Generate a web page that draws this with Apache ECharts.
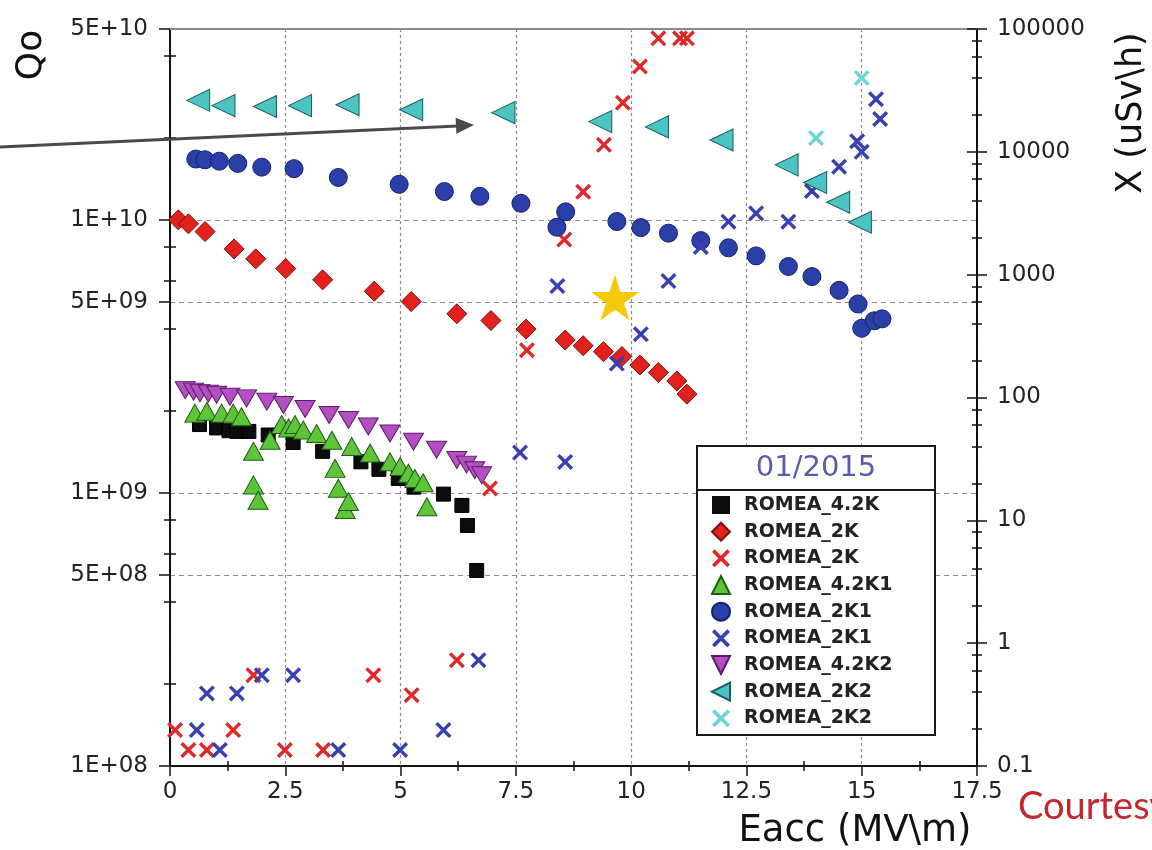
<!DOCTYPE html>
<html>
<head>
<meta charset="utf-8">
<title>ROMEA Qo / X vs Eacc</title>
<script src="https://cdn.jsdelivr.net/npm/echarts@6/dist/echarts.min.js"></script>
<style>
  html, body { margin: 0; padding: 0; background: #fff; }
  #main { width: 1152px; height: 850px; }
</style>
</head>
<body>
<div id="main"></div>
<script>
// ---- data (Eacc in MV/m, Qo, X in uSv/h) ----
const e42K = [0.64, 1.01, 1.28, 1.45, 1.71, 2.13, 2.67, 3.31, 4.14, 4.53, 4.95, 5.29, 5.93, 6.33, 6.45, 6.65]
const q42K = [1.78e9, 1.73e9, 1.69e9, 1.68e9, 1.68e9, 1.63e9, 1.53e9, 1.42e9, 1.30e9, 1.22e9, 1.13e9, 1.05e9, 9.9e8, 9.0e8, 7.6e8, 5.2e8]

const e2K = [0.18, 0.40, 0.76, 1.39, 1.86, 2.51, 3.31, 4.43, 5.23, 6.22, 6.96, 7.72, 8.57, 8.96, 9.40, 9.80, 10.19, 10.59, 10.99, 11.21]
const q2K = [1.0e10, 9.67e9, 9.06e9, 7.83e9, 7.2e9, 6.63e9, 6.03e9, 5.48e9, 5.02e9, 4.53e9, 4.28e9, 3.98e9, 3.63e9, 3.46e9, 3.29e9, 3.16e9, 2.94e9, 2.76e9, 2.57e9, 2.30e9]

const e2Kx = [0.11, 0.40, 0.80, 1.37, 1.81, 2.49, 3.32, 4.41, 5.24, 6.22, 6.94, 7.74, 8.55, 8.96, 9.41, 9.82, 10.19, 10.59, 11.06, 11.21]
const x2K = [0.196, 0.135, 0.135, 0.196, 0.549, 0.135, 0.135, 0.549, 0.377, 0.727, 18.2, 243, 1930, 4730, 11400, 25100, 49500, 84000, 84000, 84000]

const e42K1 = [0.54, 0.80, 1.12, 1.37, 1.55, 1.81, 1.81, 1.91, 2.17, 2.42, 2.57, 2.71, 2.89, 3.18, 3.51, 3.58, 3.65, 3.80, 3.87, 3.94, 4.34, 4.77, 4.99, 5.17, 5.31, 5.49, 5.57]
const q42K1 = [1.96e9, 1.99e9, 1.96e9, 1.96e9, 1.90e9, 1.42e9, 1.07e9, 9.4e8, 1.56e9, 1.78e9, 1.73e9, 1.78e9, 1.70e9, 1.65e9, 1.56e9, 1.23e9, 1.04e9, 8.7e8, 9.3e8, 1.48e9, 1.40e9, 1.30e9, 1.25e9, 1.18e9, 1.13e9, 1.09e9, 8.9e8]

const e2K1 = [0.56, 0.76, 1.07, 1.47, 1.99, 2.69, 3.65, 4.97, 5.95, 6.72, 7.61, 8.39, 8.58, 9.69, 10.21, 10.81, 11.51, 12.11, 12.71, 13.41, 13.92, 14.51, 14.92, 15.0, 15.27, 15.44]
const q2K1 = [1.67e10, 1.66e10, 1.64e10, 1.61e10, 1.56e10, 1.54e10, 1.43e10, 1.35e10, 1.27e10, 1.22e10, 1.15e10, 9.4e9, 1.07e10, 9.86e9, 9.37e9, 8.94e9, 8.40e9, 7.90e9, 7.38e9, 6.75e9, 6.20e9, 5.52e9, 4.92e9, 4.01e9, 4.27e9, 4.34e9]

const e2K1x = [0.58, 0.80, 1.08, 1.45, 1.99, 2.67, 3.65, 4.99, 5.93, 6.69, 7.59, 8.40, 8.57, 9.69, 10.21, 10.81, 11.51, 12.11, 12.71, 13.41, 13.92, 14.51, 14.90, 15.0, 15.31, 15.40]
const x2K1 = [0.196, 0.39, 0.135, 0.39, 0.549, 0.549, 0.135, 0.135, 0.196, 0.727, 35.6, 807, 29.9, 189, 328, 887, 1680, 2700, 3160, 2700, 4800, 7560, 12200, 10000, 26800, 18500]

const e42K2 = [0.33, 0.51, 0.65, 0.83, 1.01, 1.30, 1.66, 2.10, 2.46, 2.93, 3.45, 3.87, 4.30, 4.77, 5.28, 5.78, 6.22, 6.43, 6.61, 6.76]
const q42K2 = [2.38e9, 2.35e9, 2.32e9, 2.31e9, 2.29e9, 2.25e9, 2.22e9, 2.16e9, 2.10e9, 2.03e9, 1.93e9, 1.85e9, 1.75e9, 1.65e9, 1.54e9, 1.44e9, 1.32e9, 1.27e9, 1.21e9, 1.16e9]

const e2K2 = [0.61, 1.16, 2.06, 2.82, 3.85, 5.23, 7.23, 9.33, 10.56, 11.96, 13.37, 13.99, 14.49, 14.96]
const q2K2 = [2.74e10, 2.62e10, 2.60e10, 2.62e10, 2.64e10, 2.53e10, 2.47e10, 2.29e10, 2.19e10, 1.96e10, 1.59e10, 1.37e10, 1.16e10, 9.8e9]

const e2K2x = [14.01, 15.0]
const x2K2 = [12950, 39900]

const starE = [9.65]
const starQ = [5.2e9]

// axis ticks
const qMajor = [1e8, 5e8, 1e9, 5e9, 1e10, 5e10]
const qMinor = [2e8, 4e8, 6e8, 8e8, 2e9, 4e9, 6e9, 8e9, 2e10, 4e10]
const xMajor = [0.1, 1, 10, 100, 1000, 10000, 100000]
const xMinor = [0.2, 0.4, 0.6, 0.8, 2, 4, 6, 8, 20, 40, 60, 80, 200, 400, 600, 800, 2000, 4000, 6000, 8000, 20000, 40000, 60000, 80000]
const eaccMinor = [1.25, 3.75, 6.25, 8.75, 11.25, 13.75, 16.25]

const FONT = 'DejaVu Sans'
const CROSS = 'path://M0,1.5L1.5,0L5,3.5L8.5,0L10,1.5L6.5,5L10,8.5L8.5,10L5,6.5L1.5,10L0,8.5L3.5,5Z'
const TRI_DOWN = 'path://M0,0L10,0L5,10Z'
const TRI_LEFT = 'path://M0,5L10,0L10,10Z'
const STAR = 'path://M50,0L61,35L98,35L68,57L79,91L50,70L21,91L32,57L2,35L39,35Z'
const TICK = { color: '#111', width: 1.5 }

const lg = Math.log10
const pts = (xs, ys) => xs.map((x, i) => [x, ys[i]])

const scatter = (name, xs, ys, axis, symbol, size, color, border, extra) => Object.assign({
  name,
  type: 'scatter',
  xAxisIndex: 0,
  yAxisIndex: axis,
  data: pts(xs, ys),
  symbol,
  symbolSize: size,
  itemStyle: { color, borderColor: border || color, borderWidth: border ? 1 : 0, opacity: 1 },
  emphasis: { disabled: true }
}, extra || {})

const helperY = (pos, min, max, vals, len, inside) => ({
  type: 'value', position: pos, min, max,
  axisLine: { show: false, onZero: false },
  axisTick: { show: true, inside, length: len, customValues: vals, lineStyle: TICK },
  axisLabel: { show: false },
  splitLine: { show: false }
})

const qFormat = v => {
  const e = Math.floor(v + 1e-9)
  const m = Math.round(Math.pow(10, v - e))
  return m + 'E+' + (e < 10 ? '0' : '') + e
}

const myChart = echarts.init(document.getElementById('main'))

const option = {
  animation: false,
  backgroundColor: '#fff',
  grid: { left: 170, right: 175, top: 29, bottom: 84, outerBoundsMode: 'none' },
  legend: {
    orient: 'vertical',
    left: 711,
    top: 495,
    padding: 0,
    itemWidth: 18,
    itemHeight: 18,
    itemGap: 6.67,
    selectedMode: false,
    data: [
      { name: 'ROMEA_4.2K', itemStyle: { borderWidth: 0 } },
      'ROMEA_2K',
      'ROMEA_2K (X)',
      'ROMEA_4.2K1',
      'ROMEA_2K1',
      'ROMEA_2K1 (X)',
      'ROMEA_4.2K2',
      'ROMEA_2K2',
      'ROMEA_2K2 (X)'
    ],
    formatter: n => n.replace(/ \(X\)$/, ''),
    textStyle: { fontFamily: FONT, fontWeight: 'bold', fontSize: 19, color: '#222', lineHeight: 20, padding: [0, 0, 0, 9] }
  },
  xAxis: [
    {
      type: 'value', min: 0, max: 17.5, interval: 2.5, position: 'bottom',
      axisLine: { onZero: false, lineStyle: { color: '#111', width: 2 } },
      axisTick: { length: 10, lineStyle: TICK },
      minorTick: { show: true, splitNumber: 2, length: 5, lineStyle: TICK },
      axisLabel: { margin: 15, fontFamily: FONT, fontSize: 23, color: '#222' },
      splitLine: { show: true, lineStyle: { color: '#8c8c8c', width: 1.2, type: [3, 3] } }
    },
    {
      type: 'value', min: 0, max: 17.5, position: 'top',
      axisLine: { onZero: false, lineStyle: { color: '#8a8a8a', width: 2 } },
      axisTick: { show: false }, axisLabel: { show: false }, splitLine: { show: false }
    },
    {
      type: 'value', min: 0, max: 17.5, position: 'bottom',
      axisLine: { show: false, onZero: false },
      axisTick: { show: true, inside: true, length: 5, customValues: eaccMinor, lineStyle: TICK },
      axisLabel: { show: false }, splitLine: { show: false }
    }
  ],
  yAxis: [
    {
      type: 'log', logBase: 10, min: 1e8, max: 5e10, position: 'left',
      axisLine: { show: true, onZero: false, lineStyle: { color: '#111', width: 2 } },
      axisTick: { show: false }, axisLabel: { show: false }, splitLine: { show: false }
    },
    {
      type: 'log', logBase: 10, min: 0.1, max: 100000, position: 'right',
      axisLine: { show: true, onZero: false, lineStyle: { color: '#111', width: 2 } },
      axisTick: { show: true, length: 10, lineStyle: TICK },
      axisLabel: { margin: 20, fontFamily: FONT, fontSize: 23, color: '#222', formatter: v => String(v) },
      splitLine: { show: false }
    },
    {
      type: 'value', position: 'left', min: lg(qMajor[0]), max: lg(qMajor[qMajor.length - 1]),
      axisLine: { show: false, onZero: false },
      axisTick: { show: true, length: 11, customValues: qMajor.map(lg), lineStyle: TICK },
      axisLabel: { margin: 22, fontFamily: FONT, fontSize: 23, color: '#222', customValues: qMajor.map(lg), formatter: qFormat },
      splitLine: { show: true, lineStyle: { color: '#8c8c8c', width: 1.2, type: [5, 4] } }
    },
    helperY('left', lg(qMajor[0]), lg(qMajor[qMajor.length - 1]), qMinor.map(lg), 6, false),
    helperY('left', lg(qMajor[0]), lg(qMajor[qMajor.length - 1]), qMinor.map(lg), 6, true),
    helperY('right', lg(xMajor[0]), lg(xMajor[xMajor.length - 1]), xMajor.map(lg), 10, true),
    helperY('right', lg(xMajor[0]), lg(xMajor[xMajor.length - 1]), xMinor.map(lg), 5, false),
    helperY('right', lg(xMajor[0]), lg(xMajor[xMajor.length - 1]), xMinor.map(lg), 5, true)
  ],
  series: [
    scatter('ROMEA_4.2K', e42K, q42K, 0, 'rect', 14, '#0c0c0c', '#000'),
    scatter('ROMEA_2K', e2K, q2K, 0, 'diamond', 20, '#e3211c', '#7a0d0d'),
    scatter('ROMEA_2K (X)', e2Kx, x2K, 1, CROSS, 16, '#e0282a'),
    scatter('ROMEA_4.2K1', e42K1, q42K1, 0, 'triangle', [20, 18], '#5ec43a', '#1e5e12'),
    scatter('ROMEA_2K1', e2K1, q2K1, 0, 'circle', 18, '#2a40a8', '#14206a'),
    scatter('ROMEA_2K1 (X)', e2K1x, x2K1, 1, CROSS, 16, '#3a3fb0'),
    scatter('ROMEA_4.2K2', e42K2, q42K2, 0, TRI_DOWN, [20, 17], '#b44ec2', '#5a1a66'),
    scatter('ROMEA_2K2', e2K2, q2K2, 0, TRI_LEFT, [23, 22], '#4dc4c4', '#1a5f5f'),
    scatter('ROMEA_2K2 (X)', e2K2x, x2K2, 1, CROSS, 16, '#6fd6d6'),
    scatter('star', starE, starQ, 0, STAR, [48, 46], '#f6c80a', null, { z: 3 })
  ],
  graphic: [
    { type: 'text', x: 32, y: 55, rotation: Math.PI / 2, z: 10,
      style: { text: 'Qo', fontFamily: FONT, fontSize: 36, fill: '#111', align: 'center', verticalAlign: 'middle' } },
    { type: 'text', x: 1132, y: 113, rotation: Math.PI / 2, z: 10,
      style: { text: 'X (uSv\\h)', fontFamily: FONT, fontSize: 35, fill: '#111', align: 'center', verticalAlign: 'middle' } },
    { type: 'text', x: 855, y: 831, z: 10,
      style: { text: 'Eacc (MV\\m)', fontFamily: FONT, fontSize: 37, fill: '#111', align: 'center', verticalAlign: 'middle' } },
    { type: 'text', x: 1018, y: 807, z: 10,
      style: { text: 'Courtesy', fontFamily: 'Lato', fontSize: 38, fill: '#c4262e', align: 'left', verticalAlign: 'middle' } },
    // legend box
    { type: 'rect', z: 3, shape: { x: 697, y: 446, width: 238, height: 289 },
      style: { fill: '#fff', stroke: '#1a1a1a', lineWidth: 2 } },
    { type: 'line', z: 3, shape: { x1: 697, y1: 490, x2: 935, y2: 490 },
      style: { stroke: '#1a1a1a', lineWidth: 2 } },
    { type: 'text', x: 816, y: 468, z: 5,
      style: { text: '01/2015', fontFamily: FONT, fontSize: 29, fill: '#5b5ba6', align: 'center', verticalAlign: 'middle' } },
    // arrow annotation
    { type: 'line', z: 10, shape: { x1: 0, y1: 147, x2: 458, y2: 126 },
      style: { stroke: '#4a4a4a', lineWidth: 3 } },
    { type: 'polygon', z: 10, shape: { points: [[474, 125], [456.4, 133.8], [455.6, 117.8]] },
      style: { fill: '#4a4a4a' } }
  ]
}

option && myChart.setOption(option)
</script>
</body>
</html>
